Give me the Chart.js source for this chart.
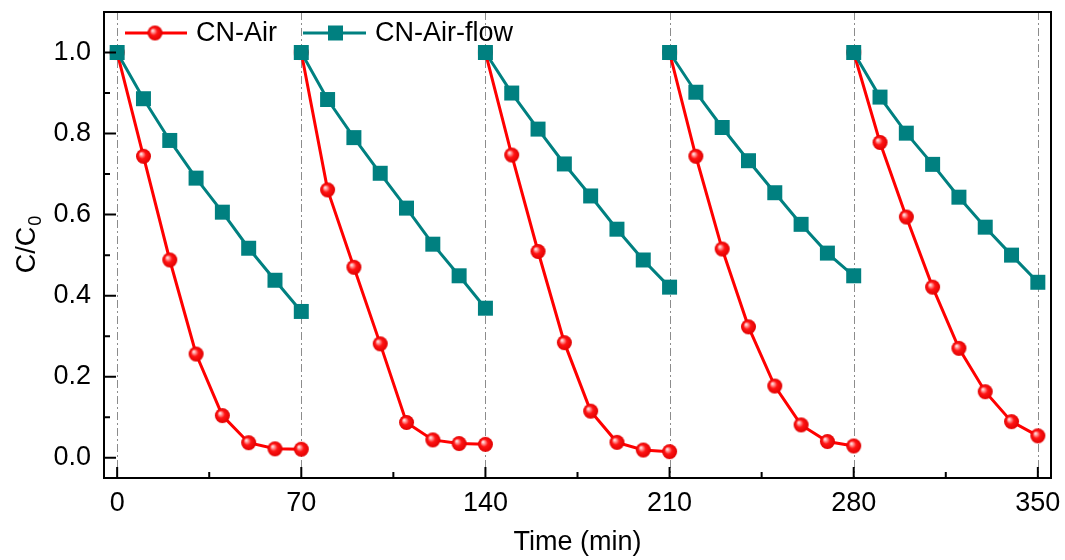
<!DOCTYPE html>
<html lang="en">
<head>
<meta charset="UTF-8">
<title>C/C0 vs Time</title>
<script src="https://cdn.jsdelivr.net/npm/chart.js"></script>
<style>
  html, body { margin: 0; padding: 0; background: #fff; }
  #wrap { width: 1065px; height: 560px; }
</style>
</head>
<body>
<div id="wrap"><canvas id="chart" width="1065" height="560"></canvas></div>
<script>
// each run lasts 70 min, sampled every 10 min
const cycleStart = [0, 70, 140, 210, 280];
const sampleTime = [0, 10, 20, 30, 40, 50, 60, 70];

const cnAir = [
  [1.0, 0.744, 0.488, 0.256, 0.104, 0.037, 0.022, 0.021],
  [1.0, 0.661, 0.470, 0.281, 0.087, 0.044, 0.035, 0.033],
  [1.0, 0.747, 0.509, 0.284, 0.115, 0.038, 0.019, 0.015],
  [1.0, 0.744, 0.515, 0.323, 0.177, 0.081, 0.040, 0.029],
  [1.0, 0.778, 0.594, 0.421, 0.270, 0.163, 0.089, 0.054]
];
const cnAirFlow = [
  [1.0, 0.886, 0.783, 0.690, 0.606, 0.517, 0.438, 0.361],
  [1.0, 0.884, 0.790, 0.702, 0.616, 0.527, 0.449, 0.369],
  [1.0, 0.900, 0.811, 0.725, 0.646, 0.564, 0.488, 0.421],
  [1.0, 0.902, 0.815, 0.733, 0.654, 0.576, 0.505, 0.449],
  [1.0, 0.890, 0.801, 0.724, 0.643, 0.569, 0.500, 0.433]
];

const xTicks = [0, 70, 140, 210, 280, 350];
const xTickLabels = ['0', '70', '140', '210', '280', '350'];
const xMinorTicks = [35, 105, 175, 245, 315];
const yTicks = [0, 0.2, 0.4, 0.6, 0.8, 1.0];
const yTickLabels = ['0.0', '0.2', '0.4', '0.6', '0.8', '1.0'];
const yMinorTicks = [0.1, 0.3, 0.5, 0.7, 0.9];

const RED = '#ff0000';
const TEAL = '#008080';
const FONT = "'Liberation Sans', Arial, sans-serif";

// one continuous array per series, with a null between runs to break the line
function toPoints(runs) {
  const pts = [];
  runs.forEach((run, i) => {
    run.forEach((v, j) => pts.push({ x: cycleStart[i] + sampleTime[j], y: v }));
    pts.push({ x: cycleStart[i] + 70, y: null });
  });
  return pts;
}

// shaded red ball marker
function makeBall(r) {
  const s = Math.ceil(r * 2 + 2);
  const c = document.createElement('canvas');
  c.width = c.height = s;
  const g = c.getContext('2d');
  const cx = s / 2;
  const grad = g.createRadialGradient(cx - r * 0.35, cx - r * 0.35, 0, cx, cx, r);
  grad.addColorStop(0, '#ffffff');
  grad.addColorStop(0.22, '#ff9a9a');
  grad.addColorStop(0.5, '#ff1414');
  grad.addColorStop(1, '#e00000');
  g.fillStyle = grad;
  g.beginPath();
  g.arc(cx, cx, r, 0, Math.PI * 2);
  g.fill();
  return c;
}
const ball = makeBall(7.5);

const framePlugin = {
  id: 'frame',
  beforeDatasetsDraw(chart) {
    const { ctx, chartArea: a, scales: { x } } = chart;
    ctx.save();
    ctx.strokeStyle = '#8c8c8c';
    ctx.lineWidth = 1;
    ctx.setLineDash([8, 3, 2, 3]);
    xTicks.forEach(v => {
      const px = Math.round(x.getPixelForValue(v)) + 0.5;
      ctx.beginPath();
      ctx.moveTo(px, a.top);
      ctx.lineTo(px, a.bottom);
      ctx.stroke();
    });
    ctx.restore();
  },
  afterDatasetsDraw(chart) {
    const { ctx, chartArea: a, scales: { x, y } } = chart;
    ctx.save();
    ctx.strokeStyle = '#000';
    ctx.lineWidth = 2;
    ctx.strokeRect(a.left, a.top, a.right - a.left, a.bottom - a.top);

    // inward ticks
    ctx.beginPath();
    xTicks.forEach(v => { const px = x.getPixelForValue(v); ctx.moveTo(px, a.bottom); ctx.lineTo(px, a.bottom - 11); });
    xMinorTicks.forEach(v => { const px = x.getPixelForValue(v); ctx.moveTo(px, a.bottom); ctx.lineTo(px, a.bottom - 6); });
    yTicks.forEach(v => { const py = y.getPixelForValue(v); ctx.moveTo(a.left, py); ctx.lineTo(a.left + 12, py); });
    yMinorTicks.forEach(v => { const py = y.getPixelForValue(v); ctx.moveTo(a.left, py); ctx.lineTo(a.left + 6, py); });
    ctx.stroke();

    // legend
    const ly = a.top + 21;
    ctx.font = '27px ' + FONT;
    ctx.textBaseline = 'middle';
    ctx.fillStyle = '#000';
    ctx.lineWidth = 3;
    ctx.strokeStyle = RED;
    ctx.beginPath(); ctx.moveTo(a.left + 21, ly); ctx.lineTo(a.left + 83, ly); ctx.stroke();
    ctx.drawImage(ball, a.left + 51 - ball.width / 2, ly - ball.height / 2);
    ctx.fillText(chart.data.datasets[0].label, a.left + 92, ly + 1);
    ctx.strokeStyle = TEAL;
    ctx.beginPath(); ctx.moveTo(a.left + 199, ly); ctx.lineTo(a.left + 262, ly); ctx.stroke();
    ctx.fillStyle = TEAL;
    ctx.fillRect(a.left + 231.5 - 7.5, ly - 7.5, 15, 15);
    ctx.fillStyle = '#000';
    ctx.fillText(chart.data.datasets[1].label, a.left + 271, ly + 1);

    // y title with subscript
    ctx.translate(25, (a.top + a.bottom) / 2);
    ctx.rotate(-Math.PI / 2);
    ctx.textBaseline = 'alphabetic';
    ctx.font = '27px ' + FONT;
    const w1 = ctx.measureText('C/C').width;
    ctx.font = '18px ' + FONT;
    const w2 = ctx.measureText('0').width;
    const x0 = -(w1 + w2) / 2;
    ctx.font = '27px ' + FONT;
    ctx.fillText('C/C', x0, 10);
    ctx.font = '18px ' + FONT;
    ctx.fillText('0', x0 + w1 + 1, 16);
    ctx.restore();
  }
};

Chart.defaults.color = '#000';
Chart.defaults.font.family = FONT;

new Chart(document.getElementById('chart'), {
  type: 'line',
  data: {
    datasets: [
      {
        label: 'CN-Air',
        data: toPoints(cnAir),
        borderColor: RED,
        backgroundColor: RED,
        borderWidth: 3,
        pointStyle: ball,
        pointRadius: 7.5,
        spanGaps: false,
        order: 2
      },
      {
        label: 'CN-Air-flow',
        data: toPoints(cnAirFlow),
        borderColor: TEAL,
        backgroundColor: TEAL,
        borderWidth: 3,
        pointStyle: 'rect',
        pointRadius: 10.6,
        pointBorderWidth: 0,
        spanGaps: false,
        order: 1
      }
    ]
  },
  options: {
    responsive: false,
    animation: false,
    devicePixelRatio: 1,
    layout: { padding: { left: 0, top: 12, right: 14, bottom: 0 } },
    plugins: { legend: { display: false }, tooltip: { enabled: false } },
    elements: { line: { tension: 0 } },
    scales: {
      x: {
        type: 'linear',
        min: -5,
        max: 355,
        afterBuildTicks: s => { s.ticks = xTicks.map(v => ({ value: v })); },
        afterFit: s => { s.height = 82; s.paddingLeft = 0; s.paddingRight = 0; },
        grid: { display: false, drawTicks: false },
        border: { display: false },
        ticks: {
          padding: 9,
          font: { size: 27 },
          callback: (v, i) => xTickLabels[i]
        },
        title: { display: true, text: 'Time (min)', font: { size: 27 }, padding: { top: 0, bottom: 1 } }
      },
      y: {
        type: 'linear',
        min: -0.05,
        max: 1.10,
        afterBuildTicks: s => { s.ticks = yTicks.map(v => ({ value: v })); },
        afterFit: s => { s.width = 104; s.paddingTop = 0; s.paddingBottom = 0; },
        grid: { display: false, drawTicks: false },
        border: { display: false },
        ticks: {
          padding: 13,
          font: { size: 27 },
          callback: (v, i) => yTickLabels[i]
        }
      }
    }
  },
  plugins: [framePlugin]
});
</script>
</body>
</html>
